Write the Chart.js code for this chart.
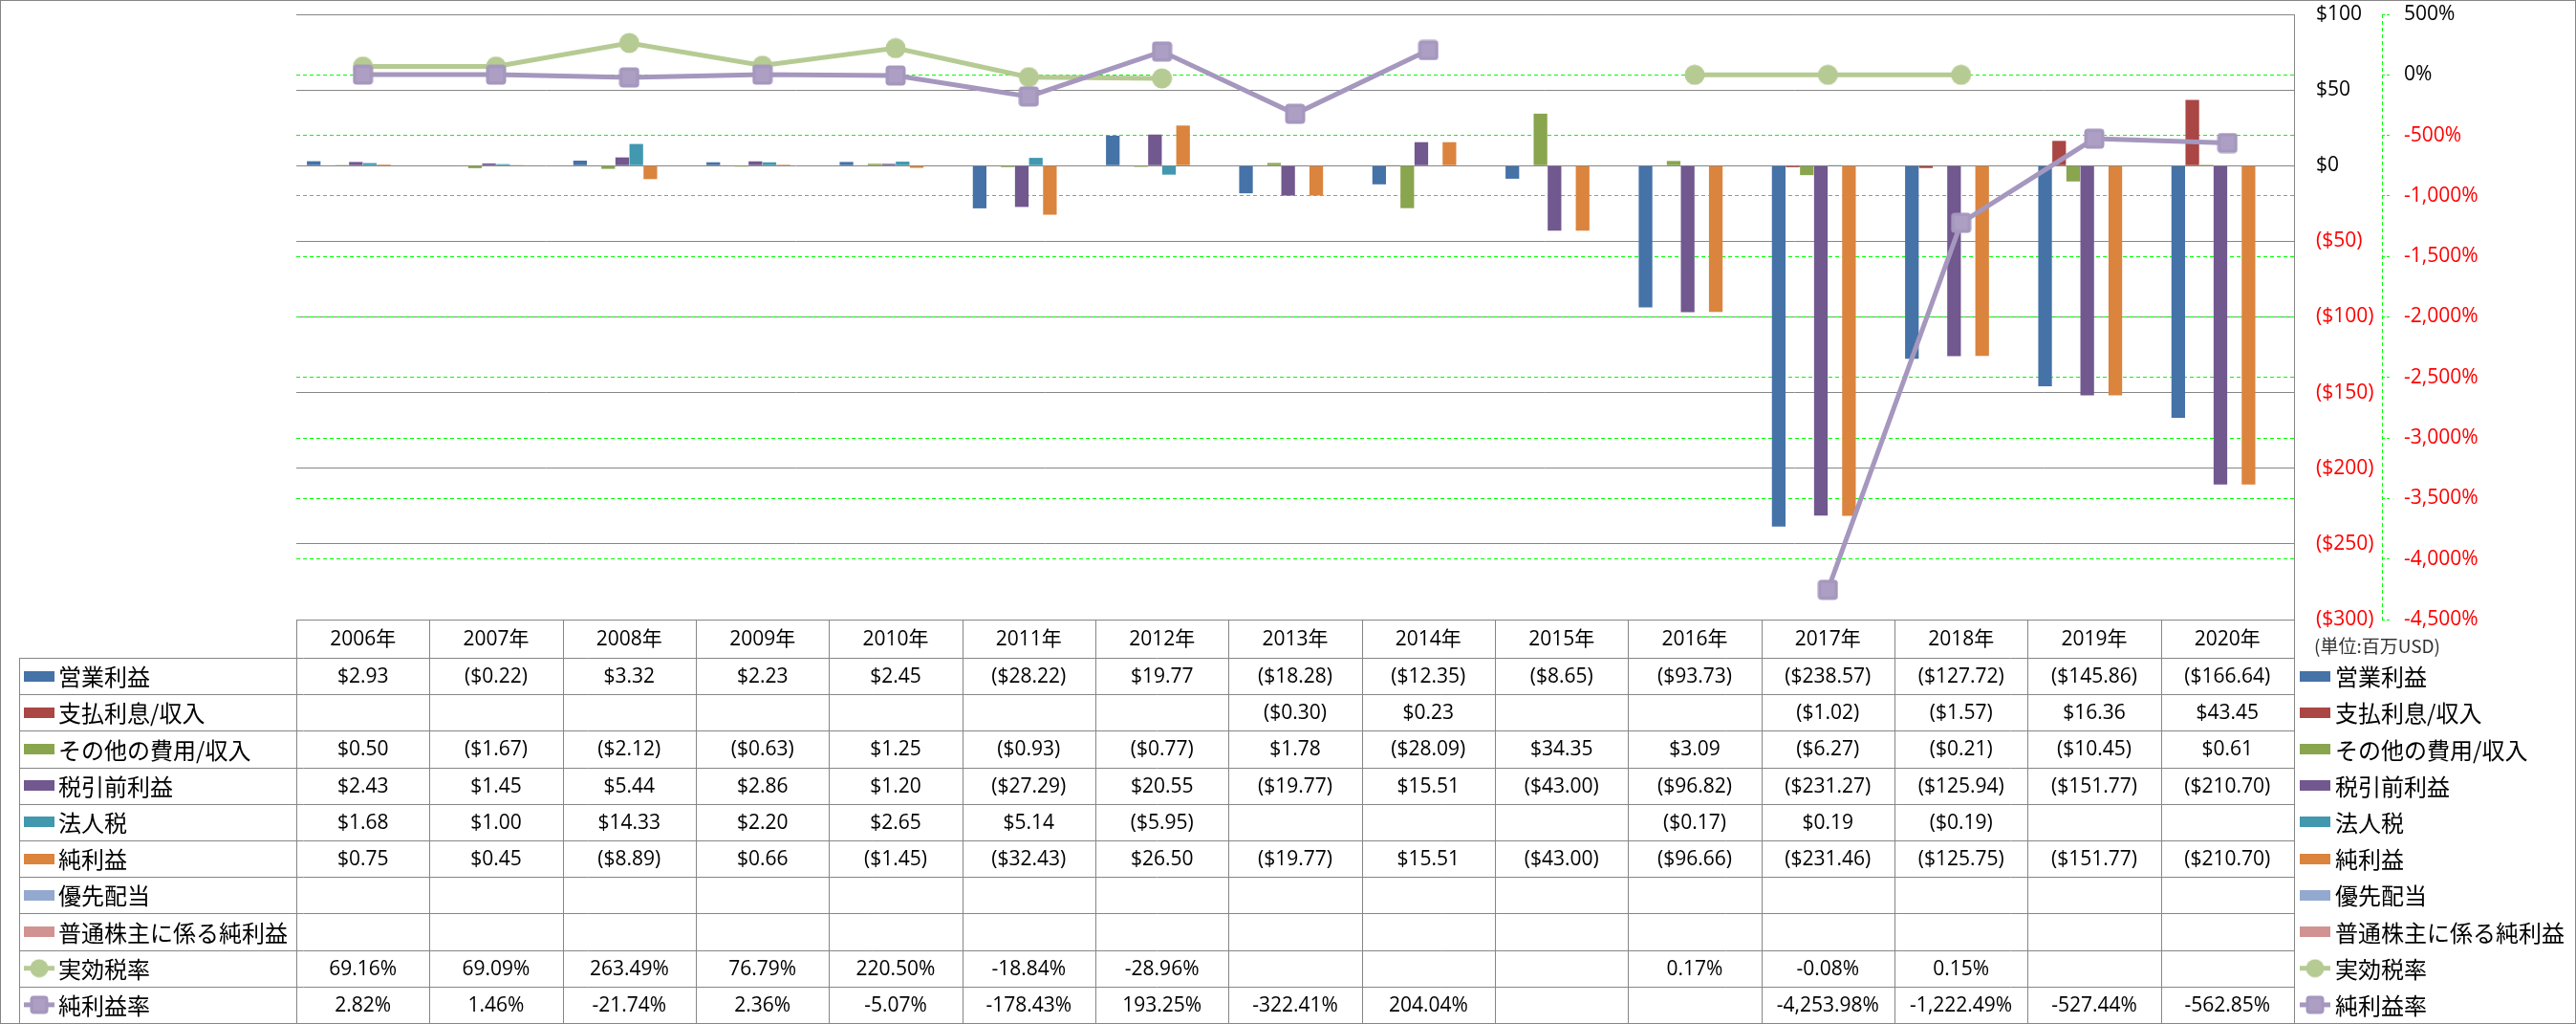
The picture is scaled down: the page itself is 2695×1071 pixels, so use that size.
<!DOCTYPE html>
<html><head><meta charset="utf-8">
<script src="https://cdn.jsdelivr.net/npm/chart.js@4/dist/chart.umd.min.js"></script>
<style>html,body{margin:0;padding:0;background:#fff;overflow:hidden}</style>
</head><body>
<canvas id="c" width="2695" height="1071" style="display:block;width:2695px;height:1071px"></canvas>
<script>
// ---------- data ----------
const years = ['2006年','2007年','2008年','2009年','2010年','2011年','2012年','2013年','2014年','2015年','2016年','2017年','2018年','2019年','2020年'];
const seriesNames = ['営業利益','支払利息/収入','その他の費用/収入','税引前利益','法人税','純利益','優先配当','普通株主に係る純利益','実効税率','純利益率'];
const operatingIncome = [2.93,-0.22,3.32,2.23,2.45,-28.22,19.77,-18.28,-12.35,-8.65,-93.73,-238.57,-127.72,-145.86,-166.64];
const interestExpense = [null,null,null,null,null,null,null,-0.30,0.23,null,null,-1.02,-1.57,16.36,43.45];
const otherExpense = [0.50,-1.67,-2.12,-0.63,1.25,-0.93,-0.77,1.78,-28.09,34.35,3.09,-6.27,-0.21,-10.45,0.61];
const pretaxIncome = [2.43,1.45,5.44,2.86,1.20,-27.29,20.55,-19.77,15.51,-43.00,-96.82,-231.27,-125.94,-151.77,-210.70];
const incomeTax = [1.68,1.00,14.33,2.20,2.65,5.14,-5.95,null,null,null,-0.17,0.19,-0.19,null,null];
const netIncome = [0.75,0.45,-8.89,0.66,-1.45,-32.43,26.50,-19.77,15.51,-43.00,-96.66,-231.46,-125.75,-151.77,-210.70];
const preferredDividends = [null,null,null,null,null,null,null,null,null,null,null,null,null,null,null];
const netIncomeToCommon = [null,null,null,null,null,null,null,null,null,null,null,null,null,null,null];
const effectiveTaxRate = [69.16,69.09,263.49,76.79,220.50,-18.84,-28.96,null,null,null,0.17,-0.08,0.15,null,null];
const netMargin = [2.82,1.46,-21.74,2.36,-5.07,-178.43,193.25,-322.41,204.04,null,null,-4253.98,-1222.49,-527.44,-562.85];
const dollarAxis = {min:-300, max:100, step:50};
const percentAxis = {min:-4500, max:500, step:500};
const unitLabel = '(単位:百万USD)';

// ---------- style ----------
const barColors = ['#4572A7','#AA4643','#89A54E','#71588F','#4198AF','#DB843D','#93A9CF','#D19392'];
const taxColor = '#B6CB93';
const marginColor = '#A597BE';
const gridGrey = '#868686';
const numFont = '21px "Open Sans", "Noto Sans CJK JP"';
const jpFont = '24px "Noto Sans CJK JP"';

function makeCircle(d, color){
  const c=document.createElement('canvas'); c.width=d; c.height=d;
  const g=c.getContext('2d'); g.fillStyle=color; g.beginPath(); g.arc(d/2,d/2,d/2-0.5,0,Math.PI*2); g.fill(); return c;
}
function rr(g,x,y,w,h,r){g.beginPath();g.moveTo(x+r,y);g.lineTo(x+w-r,y);g.quadraticCurveTo(x+w,y,x+w,y+r);g.lineTo(x+w,y+h-r);g.quadraticCurveTo(x+w,y+h,x+w-r,y+h);g.lineTo(x+r,y+h);g.quadraticCurveTo(x,y+h,x,y+h-r);g.lineTo(x,y+r);g.quadraticCurveTo(x,y,x+r,y);g.closePath();}
function makeSquare(d, color){
  const c=document.createElement('canvas'); c.width=d; c.height=d;
  const g=c.getContext('2d'); g.fillStyle=color; rr(g,0.5,0.5,d-1,d-1,4); g.fill();
  g.fillStyle='rgba(255,255,255,0.08)'; g.fillRect(4,4,d-8,d-8); return c;
}
const circleImg = makeCircle(22, taxColor);
const squareImg = makeSquare(22, marginColor);
const circleSmall = makeCircle(20, taxColor);
const squareSmall = makeSquare(20, marginColor);

function fmtDollar(v){ if(v===null||v===undefined) return ''; const a=Math.abs(v).toFixed(2); return v<0?'($'+a+')':'$'+a; }
function fmtPct(v){ if(v===null||v===undefined) return ''; return v.toLocaleString('en-US',{minimumFractionDigits:2,maximumFractionDigits:2})+'%'; }

const barSeries = [operatingIncome, interestExpense, otherExpense, pretaxIncome, incomeTax, netIncome, preferredDividends, netIncomeToCommon];
const tableRows = [
  ...barSeries.map(s=>s.map(fmtDollar)),
  effectiveTaxRate.map(fmtPct),
  netMargin.map(fmtPct)
];

const datasets = barSeries.map((d,i)=>({
  type:'bar', label:seriesNames[i], data:d, backgroundColor:barColors[i], borderWidth:0,
  yAxisID:'y', order:2, categoryPercentage:0.844, barPercentage:0.97
}));
datasets.push({type:'line', label:seriesNames[8], data:effectiveTaxRate, yAxisID:'y1', order:1,
  borderColor:taxColor, borderWidth:5, tension:0, spanGaps:false, pointStyle:circleImg, pointRadius:11, pointBorderWidth:0, backgroundColor:taxColor});
datasets.push({type:'line', label:seriesNames[9], data:netMargin, yAxisID:'y1', order:0,
  borderColor:marginColor, borderWidth:5, tension:0, spanGaps:false, pointStyle:squareImg, pointRadius:11, pointBorderWidth:0, backgroundColor:marginColor});

function drawKey(ctx, i, x0, x1, yc){
  if(i<8){ ctx.fillStyle=barColors[i]; ctx.fillRect(x0, Math.round(yc-5.5), x1-x0, 11); return; }
  const col = i===8?taxColor:marginColor;
  ctx.strokeStyle=col; ctx.lineWidth=5; ctx.beginPath(); ctx.moveTo(x0,yc); ctx.lineTo(x1,yc); ctx.stroke();
  const img = i===8?circleSmall:squareSmall;
  ctx.drawImage(img, (x0+x1)/2-10, yc-10);
}

const bgPlugin = { id:'bg', beforeDraw(chart){ const c=chart.ctx; c.save(); c.fillStyle='#fff'; c.fillRect(0,0,chart.width,chart.height); c.restore(); } };

const tablePlugin = {
  id:'table',
  afterDraw(chart){
    const ctx=chart.ctx, ca=chart.chartArea, xs=chart.scales.x, y1=chart.scales.y1;
    ctx.save();
    // secondary axis dashed line
    ctx.strokeStyle='#00FF00'; ctx.lineWidth=1; ctx.setLineDash([4,3]);
    const ax=Math.round(y1.left)+0.5;
    ctx.beginPath(); ctx.moveTo(ax, y1.top); ctx.lineTo(ax, y1.bottom); ctx.stroke();
    ctx.setLineDash([]);
    // primary axis line (solid grey) and top border of plot
    ctx.strokeStyle=gridGrey; ctx.lineWidth=1;
    const rx=Math.round(ca.right)+0.5;
    ctx.beginPath(); ctx.moveTo(rx, ca.top); ctx.lineTo(rx, ca.bottom); ctx.stroke();
    const ty=Math.round(ca.top)+0.5;
    ctx.beginPath(); ctx.moveTo(ca.left, ty); ctx.lineTo(ca.right, ty); ctx.stroke();

    const top=Math.round(ca.bottom), headerH=40, rowH=38.2, labelLeft=20;
    const n=years.length, colW=(ca.right-ca.left)/n;
    const rowsTop=top+headerH, bottom=rowsTop+rowH*10;
    const hl=(y,x0,x1)=>{const yy=Math.round(y)+0.5; ctx.beginPath(); ctx.moveTo(x0,yy); ctx.lineTo(x1,yy); ctx.stroke();};
    const vl=(x,y0,y1b)=>{const xx=Math.round(x)+0.5; ctx.beginPath(); ctx.moveTo(xx,y0); ctx.lineTo(xx,y1b); ctx.stroke();};
    hl(top, ca.left, ca.right+1);
    for(let r=0;r<=10;r++) hl(rowsTop+r*rowH, labelLeft, ca.right+1);
    for(let c=0;c<=n;c++) vl(ca.left+c*colW, top, bottom);
    vl(labelLeft, rowsTop, bottom);

    ctx.textBaseline='middle'; ctx.textAlign='center'; ctx.fillStyle='#000';
    ctx.font=numFont;
    for(let c=0;c<n;c++){
      const xc=xs.getPixelForValue(c);
      ctx.fillText(years[c], xc, top+headerH/2+1);
      for(let r=0;r<10;r++){
        const t=tableRows[r][c];
        if(t) ctx.fillText(t, xc, rowsTop+r*rowH+rowH/2+1);
      }
    }
    // row labels (left) and legend (right)
    ctx.textAlign='left';
    for(let r=0;r<10;r++){
      const yc=rowsTop+r*rowH+rowH/2;
      drawKey(ctx, r, 25, 57, yc);
      drawKey(ctx, r, 2406, 2438, yc);
      ctx.fillStyle='#000'; ctx.font=jpFont;
      ctx.fillText(seriesNames[r], 61, yc+1);
      ctx.fillText(seriesNames[r], 2443, yc+1);
    }
    ctx.font='19px "Noto Sans CJK JP"'; ctx.fillStyle='#333';
    ctx.fillText(unitLabel, 2421, top+28);
    // outer border
    ctx.strokeStyle=gridGrey; ctx.lineWidth=1; ctx.strokeRect(0.5,0.5,chart.width-1,chart.height-1);
    ctx.restore();
  }
};

function build(){
  new Chart(document.getElementById('c'), {
    type:'bar',
    data:{ labels:years, datasets },
    options:{
      responsive:false, animation:false, devicePixelRatio:1,
      layout:{ padding:{ left:310, top:15, right:0, bottom:423 } },
      plugins:{ legend:{display:false}, tooltip:{enabled:false} },
      scales:{
        x:{ display:false, offset:true },
        y:{ position:'right', weight:0, min:dollarAxis.min, max:dollarAxis.max,
            ticks:{ stepSize:dollarAxis.step, padding:23, font:{family:'Open Sans', size:21},
                    color:c=>c.tick.value<0?'#FF0000':'#000000',
                    callback:v=> v<0?'($'+Math.abs(v)+')':'$'+v },
            grid:{ color:gridGrey, lineWidth:1, drawTicks:false },
            border:{ display:true, color:gridGrey, width:1 },
            afterFit:s=>{ s.width=92; s.paddingTop=0; s.paddingBottom=0; } },
        y1:{ position:'right', weight:1, min:percentAxis.min, max:percentAxis.max,
            ticks:{ stepSize:percentAxis.step, padding:15, font:{family:'Open Sans', size:21},
                    color:c=>c.tick.value<0?'#FF0000':'#000000',
                    callback:v=> v.toLocaleString('en-US')+'%' },
            grid:{ color:c=>(c.tick && (c.tick.value===percentAxis.max||c.tick.value===percentAxis.min))?'rgba(0,0,0,0)':'#00FF00',
                   lineWidth:1, drawTicks:true, tickLength:8, tickColor:'#00FF00', tickBorderDash:[3,2], borderDash:[4,3] },
            border:{ display:false, dash:[4,3] },
            afterFit:s=>{ s.width=203; s.paddingTop=0; s.paddingBottom=0; } }
      }
    },
    plugins:[bgPlugin, tablePlugin]
  });
}
const fontLoads = [document.fonts.load('21px "Open Sans"'), document.fonts.load('24px "Noto Sans CJK JP"', '営業利益年')];
Promise.all(fontLoads).then(build, build);
</script>
</body></html>
